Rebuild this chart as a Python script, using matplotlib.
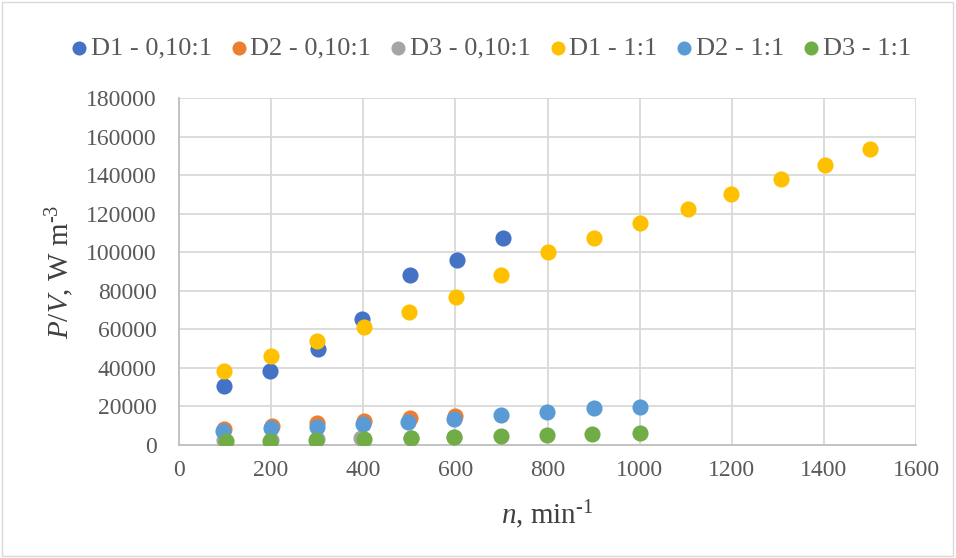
import matplotlib.pyplot as plt
from matplotlib.patches import Rectangle

plt.rcParams['font.family'] = ['Liberation Serif']
plt.rcParams['mathtext.fontset'] = 'custom'
plt.rcParams['mathtext.rm'] = 'Liberation Serif'
plt.rcParams['mathtext.it'] = 'Liberation Serif:italic'

# D1 - 0,10:1
n_d1_010 = [98, 198, 302, 398, 502, 604, 704]
pv_d1_010 = [30700, 38300, 49900, 65200, 88100, 95800, 107400]
# D2 - 0,10:1
n_d2_010 = [98, 201, 300, 402, 502, 599]
pv_d2_010 = [8150, 9860, 11240, 12600, 13850, 15050]
# D3 - 0,10:1
n_d3_010 = [97, 200, 300, 396, 503, 598]
pv_d3_010 = [2500, 2800, 3000, 3400, 3600, 4100]
# D1 - 1:1
n_d1_11 = [98, 200, 300, 402, 500, 602, 700, 802, 900, 1000, 1104, 1198, 1306, 1402, 1500]
pv_d1_11 = [38300, 46200, 53900, 61300, 69000, 76700, 88200, 99900, 107600, 115300, 122600, 130100, 137800, 145500, 153300]
# D2 - 1:1
n_d2_11 = [95, 199, 300, 400, 498, 597, 700, 798, 900, 1000]
pv_d2_11 = [7260, 8980, 9500, 10890, 12090, 13300, 15500, 16900, 19000, 19900]
# D3 - 1:1
n_d3_11 = [103, 197, 297, 402, 503, 597, 700, 798, 896, 1000]
pv_d3_11 = [2080, 2230, 2590, 3110, 3480, 4000, 4700, 5200, 5700, 6000]

series = [
    ('D1 - 0,10:1', n_d1_010, pv_d1_010, '#4472C4'),
    ('D2 - 0,10:1', n_d2_010, pv_d2_010, '#ED7D31'),
    ('D3 - 0,10:1', n_d3_010, pv_d3_010, '#A5A5A5'),
    ('D1 - 1:1', n_d1_11, pv_d1_11, '#FFC000'),
    ('D2 - 1:1', n_d2_11, pv_d2_11, '#5B9BD5'),
    ('D3 - 1:1', n_d3_11, pv_d3_11, '#70AD47'),
]

fig = plt.figure(figsize=(9.56, 5.58), dpi=100)
ax = fig.add_axes([179 / 956, 1 - 445 / 558, (916 - 179) / 956, (445 - 98) / 558])

for i, (name, x, y, c) in enumerate(series):
    ax.scatter(x, y, s=135, color=c, label=name, zorder=3 + i, linewidths=0)

ax.set_xlim(0, 1600)
ax.set_ylim(0, 180000)
ax.set_xticks(range(0, 1601, 200))
ax.set_yticks(range(0, 180001, 20000))
ax.grid(True, color='#d9d9d9', linewidth=1.3)
ax.set_axisbelow(True)
ax.tick_params(length=0, labelsize=17, colors='#595959')
ax.tick_params(axis='y', pad=16)
ax.tick_params(axis='x', pad=11)
for s in ['top', 'right']:
    ax.spines[s].set_visible(False)
for s in ['left', 'bottom']:
    ax.spines[s].set_color('#bfbfbf')
    ax.spines[s].set_linewidth(1.3)

hyph = '\u2010'
ax.set_xlabel('$n$, min$^{' + hyph + '1}$', fontsize=21, color='#404040')
ax.xaxis.label.set_va('center')
ax.xaxis.set_label_coords(0.5, -(515 - 445) / 347)
ax.set_ylabel('$P$/$V$, W m$^{' + hyph + '3}$', fontsize=21, color='#404040')
ax.yaxis.label.set_va('center')
ax.yaxis.set_label_coords(-(179 - 60) / 737, 0.5)

leg = fig.legend(loc='center', bbox_to_anchor=(491 / 956, 1 - 48 / 558), ncol=6, frameon=False,
                 fontsize=19, handletextpad=0.14, columnspacing=0.72, markerscale=0.87,
                 handlelength=0.6, borderpad=0.1)
for t in leg.get_texts():
    t.set_color('#595959')

fig.patches.append(Rectangle((0.002, 0.003), 0.995, 0.993, transform=fig.transFigure,
                             fill=False, edgecolor='#d9d9d9', linewidth=1))

fig.savefig('out.png', dpi=100)
